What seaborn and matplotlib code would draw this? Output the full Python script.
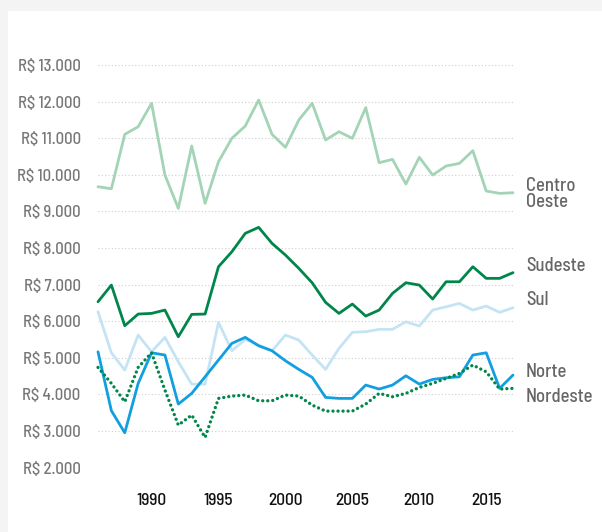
import matplotlib
matplotlib.use("Agg")
import matplotlib.pyplot as plt
import matplotlib.transforms as mtransforms
import seaborn as sns
import pandas as pd
from matplotlib import font_manager

years = list(range(1986, 2018))

centro_oeste = [9675, 9620, 11106, 11314, 11953, 9995, 9084, 10787, 9221, 10358,
                10997, 11333, 12044, 11106, 10751, 11497, 11953, 10951, 11178, 10997,
                11834, 10331, 10423, 9749, 10478, 9995, 10240, 10314, 10659, 9557,
                9494, 9510]
sudeste = [6533, 6989, 5878, 6197, 6215, 6306, 5577, 6188, 6197, 7490,
           7899, 8401, 8565, 8128, 7809, 7445, 7050, 6516, 6215, 6470,
           6142, 6306, 6762, 7052, 6989, 6607, 7079, 7079, 7490, 7172,
           7172, 7328]
sul = [6260, 5139, 4667, 5623, 5166, 5560, 4893, 4284, 4284, 5970,
       5194, 5503, 5350, 5194, 5623, 5486, 5077, 4686, 5260, 5697,
       5715, 5779, 5779, 5986, 5869, 6306, 6396, 6487, 6306, 6415,
       6243, 6369]
norte = [5166, 3556, 2954, 4303, 5139, 5077, 3738, 4030, 4484, 4940,
         5396, 5560, 5330, 5194, 4921, 4686, 4467, 3920, 3893, 3893,
         4257, 4148, 4257, 4511, 4284, 4412, 4457, 4484, 5077, 5139,
         4167, 4530]
nordeste = [4740, 4303, 3801, 4740, 5139, 4120, 3164, 3437, 2827, 3893,
            3956, 3984, 3828, 3828, 3984, 3956, 3710, 3546, 3546, 3546,
            3738, 4030, 3938, 4030, 4193, 4303, 4439, 4576, 4803, 4620,
            4148, 4167]

series_names = ["Centro Oeste", "Sudeste", "Sul", "Norte", "Nordeste"]
series_values = [centro_oeste, sudeste, sul, norte, nordeste]
label_texts = ["Centro\nOeste", "Sudeste", "Sul", "Norte", "Nordeste"]
y_ticks = [2000, 3000, 4000, 5000, 6000, 7000, 8000, 9000, 10000, 11000, 12000, 13000]
x_ticks = [1990, 1995, 2000, 2005, 2010, 2015]

# styling / layout
colors = ["#a3d4b6", "#00864a", "#c4e4f5", "#129fe0", "#00864a"]
label_y = [9481, 7516, 6579, 4620, 3921]

sns.set_theme(style="white")
avail = {f.name for f in font_manager.fontManager.ttflist}
fam = [f for f in ["Barlow Semi Condensed", "Roboto Condensed", "Liberation Sans Narrow",
                   "Roboto", "DejaVu Sans"] if f in avail]
plt.rcParams["font.family"] = fam
plt.rcParams["font.weight"] = 500

df = pd.DataFrame({"year": years * len(series_names),
                   "value": sum(series_values, []),
                   "region": sum([[n] * len(years) for n in series_names], [])})

W, H = 602, 532
fig = plt.figure(figsize=(W / 100, H / 100), dpi=100, facecolor="#f4f4f4")
bg = fig.add_axes([8 / W, 0, 1 - 8 / W, (H - 11) / H], zorder=-10)
bg.set_facecolor("white")
bg.set_xticks([]); bg.set_yticks([])
for s in bg.spines.values():
    s.set_visible(False)

ax = fig.add_axes([98 / W, (H - 467.7) / H, (513 - 98) / W, (467.7 - 65) / H], zorder=1)
ax.set_facecolor("none")

for name, c in zip(series_names, colors):
    sub = df[df.region == name]
    if name == "Nordeste":
        sns.lineplot(data=sub, x="year", y="value", ax=ax, color=c, lw=2.4,
                     legend=False, clip_on=False, zorder=3)
        ln = ax.lines[-1]
        ln.set_linestyle((0, (0.01, 1.5)))
        ln.set_dash_capstyle("round")
    else:
        sns.lineplot(data=sub, x="year", y="value", ax=ax, color=c, lw=2.0,
                     legend=False, clip_on=False, zorder=2)

ax.set_xlim(years[0], years[-1])
ax.set_ylim(2000, 13000)
ax.set_yticks(y_ticks)
ax.set_yticklabels([("R$ {:,}".format(v)).replace(",", ".") for v in y_ticks])
ax.set_xticks(x_ticks)
ax.set_xticklabels([str(v) for v in x_ticks])
ax.grid(axis="y", color="#cfcfcf", linestyle=(0, (1, 2)), lw=0.8)
ax.grid(axis="x", visible=False)
for s in ax.spines.values():
    s.set_visible(False)
ax.tick_params(axis="y", length=0, pad=12.5, labelsize=12, labelcolor="#777777")
ax.tick_params(axis="x", length=0, pad=18, labelsize=12.5, labelcolor="#111111")
ax.set_xlabel("")
ax.set_ylabel("")

trans = mtransforms.blended_transform_factory(ax.transAxes, ax.transData)
for t, y in zip(label_texts, label_y):
    ax.text(1 + 13 / 415, y, t, transform=trans, ha="left", va="center",
            fontsize=13.5, color="#666666", linespacing=0.85)

fig.savefig("out.png", dpi=100, facecolor=fig.get_facecolor())
